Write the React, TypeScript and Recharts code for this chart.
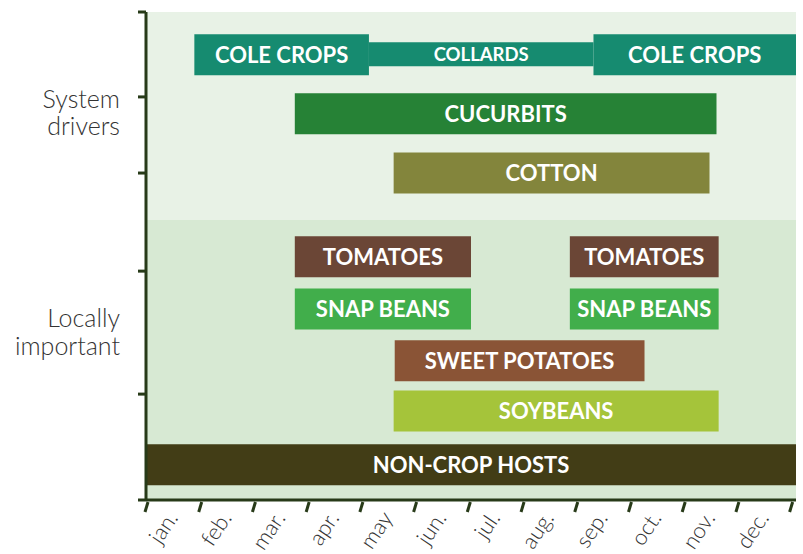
import React from 'react';
import { BarChart, Bar, XAxis, YAxis, Cell, LabelList, ReferenceArea } from 'recharts';

// crop bars: one entry per drawn bar (a crop may have two windows)
const cropNames = [
  'COLE CROPS', 'COLLARDS', 'COLE CROPS', 'CUCURBITS', 'COTTON',
  'TOMATOES', 'TOMATOES', 'SNAP BEANS', 'SNAP BEANS', 'SWEET POTATOES',
  'SOYBEANS', 'NON-CROP HOSTS',
];
// row position on a 0..100 vertical scale (top to bottom)
const rowPos = [8.7, 8.7, 8.7, 20.8, 32.9, 50.1, 50.1, 60.8, 60.8, 71.4, 81.7, 92.7];
// months from start of jan. (0) to end of dec. (12)
const startMonth = [0.9, 4.15, 8.33, 2.77, 4.61, 2.77, 7.89, 2.77, 7.89, 4.63, 4.61, 0];
const endMonth = [4.15, 8.33, 12.1, 10.62, 10.49, 6.05, 10.66, 6.05, 10.66, 9.28, 10.66, 12.1];

const months = ['jan.', 'feb.', 'mar.', 'apr.', 'may', 'jun.', 'jul.', 'aug.', 'sep.', 'oct.', 'nov.', 'dec.'];
const monthTicks = [0, 1, 2, 3, 4, 5, 6, 7, 8, 9, 10, 11, 12];

const groupLabels = [['System', 'drivers'], ['Locally', 'important']];
const groupPos = [21.1, 66];
const groupSplit = 42.6;
const rowTicks = [0, 17.4, 33, 53.1, 78.3, 100];

const cropColors: Record<string, string> = {
  'COLE CROPS': '#168b70',
  COLLARDS: '#168b70',
  CUCURBITS: '#268236',
  COTTON: '#83853c',
  TOMATOES: '#6b4636',
  'SNAP BEANS': '#41ae4b',
  'SWEET POTATOES': '#8a5436',
  SOYBEANS: '#a5c43a',
  'NON-CROP HOSTS': '#423d16',
};

const data = cropNames.map((name, i) => ({
  name,
  row: rowPos[i],
  span: name === 'COLLARDS' ? null : [startMonth[i], endMonth[i]],
  thin: name === 'COLLARDS' ? [startMonth[i], endMonth[i]] : null,
}));

const axisColor = '#273a18';
const font = 'Lato, "Open Sans", sans-serif';
const plotWidth = 650;
const xMax = 12.1;
const halfMonth = plotWidth / xMax / 2;

const MonthTick = (props: any) => {
  const { x, y, payload } = props;
  const v = payload.value;
  const lx = x + halfMonth + 6;
  const ly = y + 18;
  return (
    <g>
      <line x1={x + 2} y1={y + 2} x2={x - 1} y2={y + 12} stroke={axisColor} strokeWidth={3} />
      {v < 12 && (
        <text
          x={lx}
          y={ly}
          textAnchor="end"
          transform={`rotate(-56 ${lx} ${ly})`}
          fontFamily={font}
          fontWeight={300}
          fontSize={22}
          fill="#333"
        >
          {months[v]}
        </text>
      )}
    </g>
  );
};

const GroupTick = (props: any) => {
  const { x, y, payload } = props;
  const idx = groupPos.indexOf(payload.value);
  const lines = groupLabels[idx] || [];
  return (
    <text x={x} y={y} textAnchor="end" fontFamily={font} fontWeight={300} fontSize={25} fill="#333">
      <tspan x={x} y={y - 7}>{lines[0]}</tspan>
      <tspan x={x} y={y + 20.5}>{lines[1]}</tspan>
    </text>
  );
};

const NoTick = () => <g />;

const BarLabel = (size: number) => (props: any) => {
  const { x, y, width, height, value } = props;
  if (!(width > 0)) return null;
  return (
    <text
      x={x + width / 2}
      y={y + height / 2 + size * 0.36}
      textAnchor="middle"
      fontFamily={font}
      fontWeight={700}
      fontSize={size}
      fill="#ffffff"
    >
      {value}
    </text>
  );
};

const App: React.FC = () => {
  return (
    <div style={{ position: 'absolute', left: 0, top: 0 }}>
      <BarChart
        width={803}
        height={554}
        data={data}
        layout="vertical"
        margin={{ top: 12, right: 7, bottom: 0, left: 0 }}
      >
        <XAxis
          type="number"
          domain={[0, xMax]}
          ticks={monthTicks}
          interval={0}
          height={54}
          allowDataOverflow
          axisLine={{ stroke: axisColor, strokeWidth: 3 }}
          tickLine={false}
          tickSize={0}
          tickMargin={0}
          tick={<MonthTick />}
        />
        <YAxis
          yAxisId="a"
          type="number"
          dataKey="row"
          domain={[0, 100]}
          ticks={rowTicks}
          interval={0}
          width={20}
          allowDataOverflow
          axisLine={{ stroke: axisColor, strokeWidth: 3 }}
          tickLine={{ stroke: axisColor, strokeWidth: 3 }}
          tickSize={8}
          tick={<NoTick />}
        />
        <YAxis
          yAxisId="b"
          type="number"
          dataKey="row"
          domain={[0, 100]}
          ticks={groupPos}
          interval={0}
          width={126}
          allowDataOverflow
          axisLine={false}
          tickLine={false}
          tickSize={0}
          tickMargin={6}
          tick={<GroupTick />}
        />
        <YAxis yAxisId="c" type="number" dataKey="row" domain={[0, 100]} hide allowDataOverflow />
        <ReferenceArea yAxisId="a" x1={0} x2={xMax} y1={0} y2={groupSplit} fill="#e8f2e6" fillOpacity={1} stroke="none" />
        <ReferenceArea yAxisId="a" x1={0} x2={xMax} y1={groupSplit} y2={100} fill="#d7e9d3" fillOpacity={1} stroke="none" />
        <Bar yAxisId="c" dataKey="thin" barSize={24} isAnimationActive={false}>
          {data.map((d, i) => (
            <Cell key={`t${i}`} fill={cropColors[d.name]} />
          ))}
          <LabelList dataKey="name" content={BarLabel(18.5)} />
        </Bar>
        <Bar yAxisId="a" dataKey="span" barSize={41} isAnimationActive={false}>
          {data.map((d, i) => (
            <Cell key={`c${i}`} fill={cropColors[d.name]} />
          ))}
          <LabelList dataKey="name" content={BarLabel(22)} />
        </Bar>
      </BarChart>
    </div>
  );
};

export default App;
